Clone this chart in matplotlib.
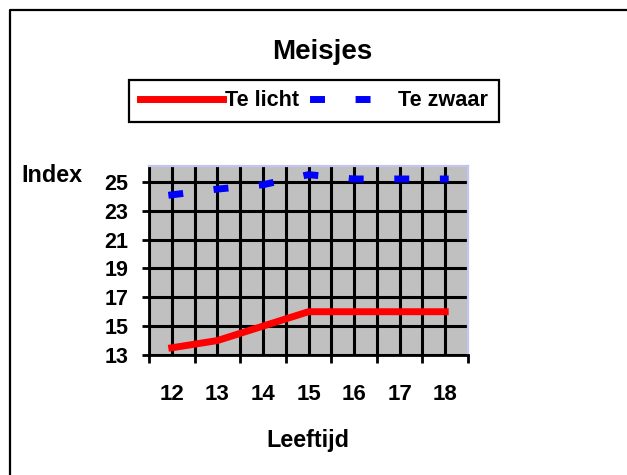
import matplotlib
matplotlib.use("Agg")
import matplotlib.pyplot as plt
from matplotlib.lines import Line2D

# data
ages = ["12", "13", "14", "15", "16", "17", "18"]
te_licht = [13.5, 14.0, 15.0, 16.0, 16.0, 16.0, 16.0]
te_zwaar = [24.1, 24.5, 24.8, 25.5, 25.2, 25.2, 25.2]
y_ticks = [13, 15, 17, 19, 21, 23, 25]

plt.rcParams['font.family'] = ['Liberation Sans', 'DejaVu Sans']
plt.rcParams['font.weight'] = 'bold'

W, H, DPI = 627, 475, 100
fig = plt.figure(figsize=(W / DPI, H / DPI), dpi=DPI)
fig.patch.set_facecolor('white')

# plot area in pixels: x 149..468, y 166..355
ax = fig.add_axes([149 / W, 1 - 355 / H, (468 - 149) / W, (355 - 166) / H])
ax.set_facecolor('#C0C0C0')

x = list(range(len(ages)))
ax.set_xlim(-0.5, len(ages) - 0.5)
ax.set_ylim(13, 26.1)

# dash period = one category wide, a short dash starting at each point
lw_blue = 5.0
cat_pt = (468 - 149) / len(ages) * 72 / DPI
on_pt = 8 * 72 / DPI
off_pt = cat_pt - on_pt
ax.plot(x, te_licht, color='#FF0000', lw=5.0, solid_capstyle='projecting',
        label='Te licht', zorder=3)
ax.plot(x, te_zwaar, color='#0000FF', lw=lw_blue,
        linestyle=(0, (on_pt / lw_blue, off_pt / lw_blue)),
        dash_capstyle='projecting', label='Te zwaar', zorder=3)

# ticks: labels at category centres, tick marks at category boundaries
ax.set_xticks(x)
ax.set_xticklabels(ages)
ax.set_xticks([i - 0.5 for i in range(len(ages) + 1)], minor=True)
ax.tick_params(axis='x', which='major', length=0, pad=21, labelsize=16)
ax.tick_params(axis='x', which='minor', length=6, width=2, direction='out',
               color='black')
ax.set_yticks(y_ticks)
ax.tick_params(axis='y', which='major', length=5, width=2, direction='out',
               pad=10, labelsize=15.5)
for lab in ax.get_xticklabels() + ax.get_yticklabels():
    lab.set_fontweight('bold')

# black grid
ax.set_axisbelow(True)
ax.grid(True, axis='x', which='both', color='black', lw=2.2)
ax.grid(True, axis='y', which='major', color='black', lw=2.2)
ax.xaxis.get_minor_ticks()[-1].gridline.set_visible(False)

for side in ['left', 'bottom']:
    ax.spines[side].set_color('black')
    ax.spines[side].set_linewidth(2)
for side in ['top', 'right']:
    ax.spines[side].set_color('#C4C4F2')
    ax.spines[side].set_linewidth(1.6)

# titles and axis labels
fig.text(322 / W, 1 - 59 / H, 'Meisjes', ha='center', va='baseline',
         fontsize=20, fontweight='bold')
fig.text(21 / W, 1 - 182 / H, 'Index', ha='left', va='baseline',
         fontsize=16.8, fontweight='bold')
fig.text(308 / W, 1 - 447 / H, 'Leeftijd', ha='center', va='baseline',
         fontsize=16.8, fontweight='bold')

leg = fig.legend(loc='center', bbox_to_anchor=(314 / W, 1 - 101 / H), ncol=2,
                 fontsize=15.6, handlelength=3.85, handletextpad=0.1,
                 columnspacing=0.6, borderpad=0.5, fancybox=False,
                 framealpha=1, edgecolor='black')
leg.get_frame().set_linewidth(1.6)
for t in leg.get_texts():
    t.set_fontweight('bold')

# outer chart border (runs off the right and bottom edge)
fig.add_artist(Line2D([9.5 / W, 9.5 / W, 1.01], [-0.01, 1 - 10 / H, 1 - 10 / H],
                      transform=fig.transFigure, color='black', lw=1.6))

fig.savefig('out.png', dpi=DPI)
